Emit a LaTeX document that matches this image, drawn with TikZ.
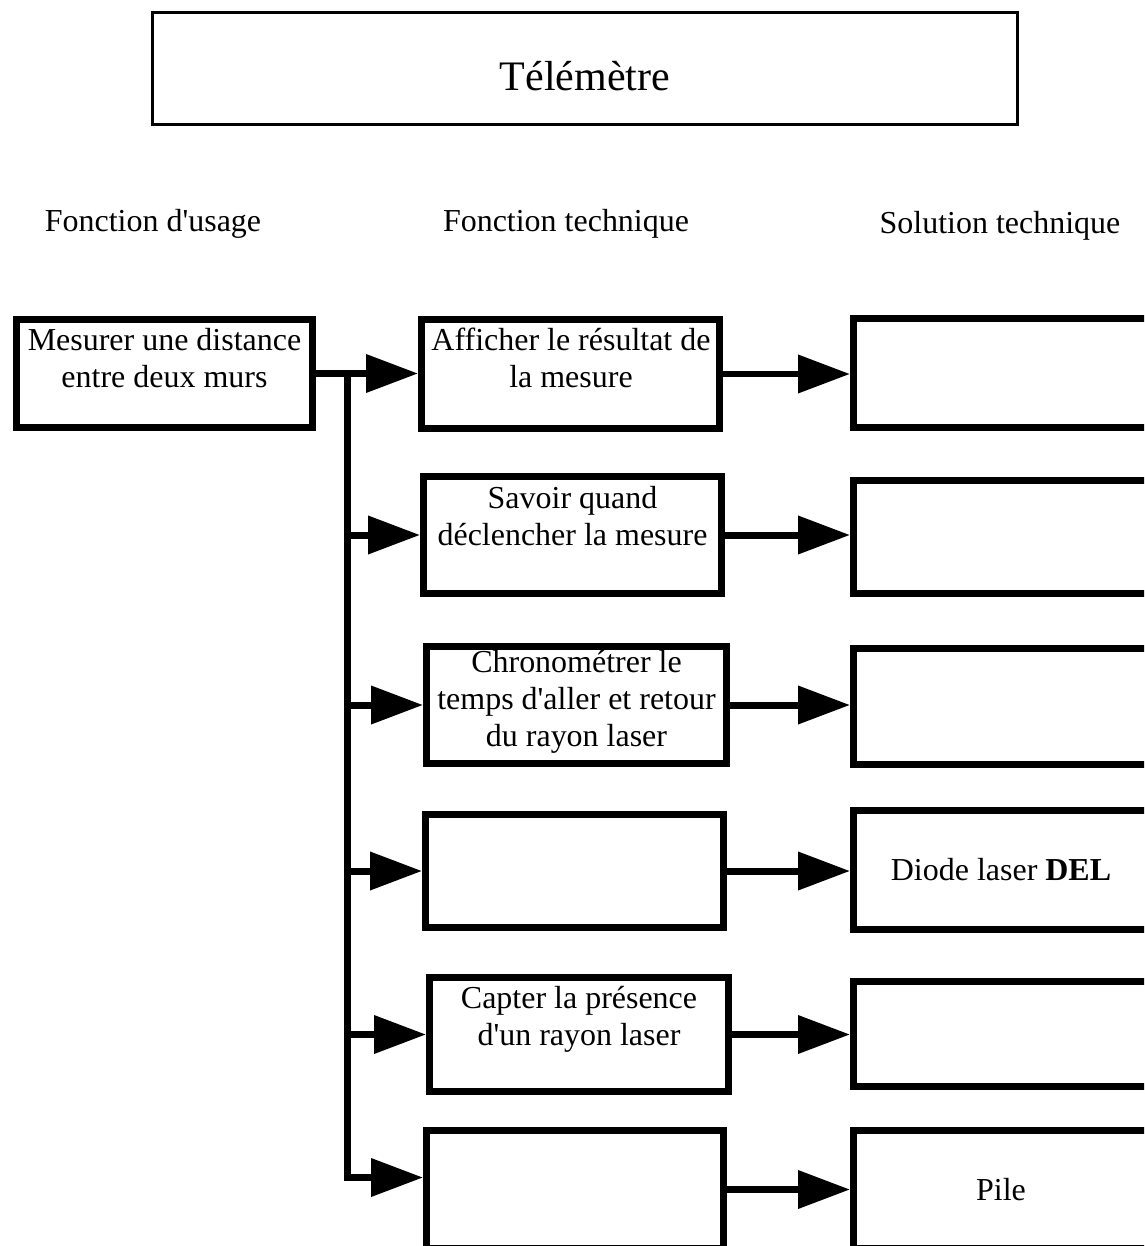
\documentclass[tikz,border=0pt]{standalone}
\usepackage{fontspec}
\setmainfont{Liberation Serif}
\usetikzlibrary{arrows.meta}

\tikzset{
  box/.style={draw, line width=0.14cm, inner sep=0pt},
  boxtext/.style={anchor=base, align=center, inner sep=0pt, font=\fontsize{18.2}{21}\selectfont},
  head/.style={anchor=base, inner sep=0pt, font=\fontsize{18.2}{21}\selectfont},
  flow/.style={line width=0.14cm, -{Triangle[length=1.04cm,width=0.74cm]}},
  wire/.style={line width=0.14cm},
}

\begin{document}
\begin{tikzpicture}[x=0.02cm,y=-0.02cm]
\useasboundingbox (0,0) rectangle (1144,1246);
\clip (0,0) rectangle (1144,1246);
\node[draw, line width=0.06cm, minimum width=17.30cm, minimum height=2.24cm] (title) at (585,68.5) {};
\node[anchor=base, inner sep=0pt, font=\fontsize{23.9}{28}\selectfont] (titletext) at (585,91) {Télémètre};
\node[head] (usage) at (153,232) {Fonction d\textquotesingle usage};
\node[head] (tech) at (566,232) {Fonction technique};
\node[head] (sol) at (1000,234) {Solution technique};
\node[box, minimum width=5.92cm, minimum height=2.16cm] (lb) at (164.5,373.5) {};
\node[boxtext] (lbtext) at (164.5,387) {Mesurer une distance\\entre deux murs};
\node[box, minimum width=5.96cm, minimum height=2.18cm] (m1) at (570.5,374) {};
\node[boxtext] (m1text) at (571,387) {Afficher le résultat de\\la mesure};
\node[box, minimum width=5.96cm, minimum height=2.34cm] (m2) at (572.5,535) {};
\node[boxtext] (m2text) at (572.5,545) {Savoir quand\\déclencher la mesure};
\node[box, minimum width=6.00cm, minimum height=2.34cm] (m3) at (576.5,705) {};
\node[boxtext] (m3text) at (576.5,746) {Chronométrer le\\temps d\textquotesingle aller et retour\\du rayon laser};
\node[box, minimum width=5.96cm, minimum height=2.26cm] (m4) at (574.5,871) {};
\node[box, minimum width=5.98cm, minimum height=2.28cm] (m5) at (579,1034.5) {};
\node[boxtext] (m5text) at (579,1045) {Capter la présence\\d\textquotesingle un rayon laser};
\node[box, minimum width=5.94cm, minimum height=2.36cm] (m6) at (575,1189.5) {};
\node[box, minimum width=6.00cm, minimum height=2.18cm] (r1) at (1003.5,373) {};
\node[box, minimum width=6.00cm, minimum height=2.26cm] (r2) at (1003.5,537) {};
\node[box, minimum width=6.00cm, minimum height=2.32cm] (r3) at (1003.5,706.5) {};
\node[box, minimum width=6.00cm, minimum height=2.38cm] (r4) at (1003.5,870) {};
\node[anchor=center, inner sep=0pt, font=\fontsize{18.2}{21}\selectfont] (r4text) at (1001,870) {Diode laser \textbf{DEL}};
\node[box, minimum width=6.00cm, minimum height=2.10cm] (r5) at (1003.5,1034) {};
\node[box, minimum width=6.00cm, minimum height=2.36cm] (r6) at (1003.5,1189.5) {};
\node[anchor=center, inner sep=0pt, font=\fontsize{18.2}{21}\selectfont] (r6text) at (1001,1189.5) {Pile};
\coordinate (fork) at (347,373.5);
\coordinate (m6in) at ([yshift=0.24cm]m6.west);
\draw[flow] (lb.east) -- (lb.east -| m1.west);
\draw[flow] (fork) -- (fork |- m6in) -- (m6in);
\draw[flow] (fork |- m2.west) -- (m2.west);
\draw[flow] (fork |- m3.west) -- (m3.west);
\draw[flow] (fork |- m4.west) -- (m4.west);
\draw[flow] (fork |- m5.west) -- (m5.west);
\draw[flow] (m1.east) -- (m1.east -| r1.west);
\draw[flow] (m2.east) -- (m2.east -| r2.west);
\draw[flow] (m3.east) -- (m3.east -| r3.west);
\draw[flow] (m4.east) -- (m4.east -| r4.west);
\draw[flow] (m5.east) -- (m5.east -| r5.west);
\draw[flow] (m6.east) -- (m6.east -| r6.west);
\end{tikzpicture}
\end{document}
